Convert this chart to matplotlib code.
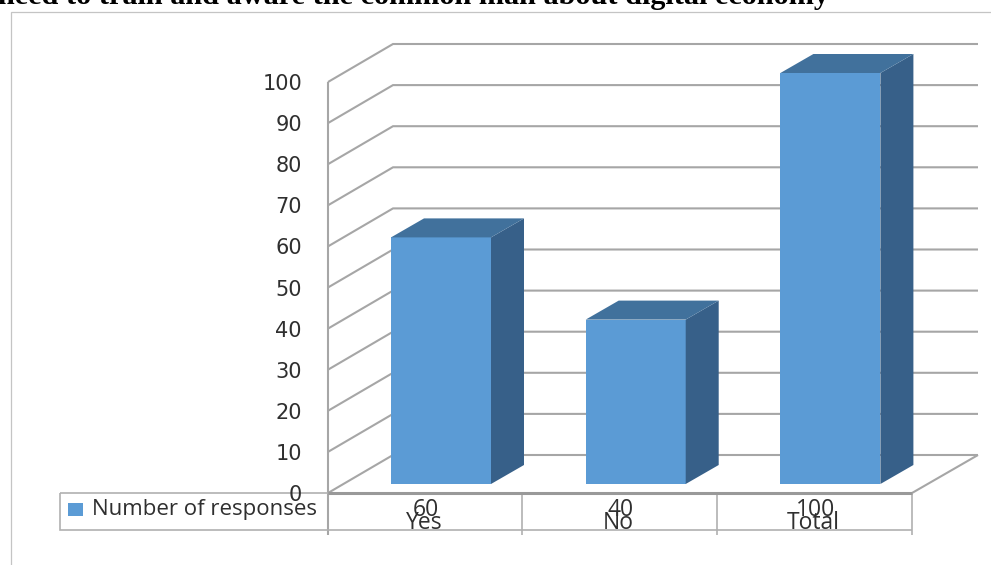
import matplotlib
matplotlib.use("Agg")
import matplotlib.pyplot as plt
from matplotlib.patches import Polygon, Rectangle

# Chart values
categories = ["Yes", "No", "Total"]
responses = [60, 40, 100]
y_ticks = [0, 10, 20, 30, 40, 50, 60, 70, 80, 90, 100]
legend_label = "Number of responses"
title = "need to train and aware the common man about digital economy"

W, H = 991, 565
CELL = 194.7    # pixels per category
UNIT = 4.11     # pixels per response
X0 = 425        # pixel x of first category centre
Y0 = 493        # pixel y of value 0 on the front plane

GRID = "#a6a6a6"
FRONT = "#5b9bd5"
SIDE = "#376089"
TOP = "#41719c"
TEXT = "#2f2f2f"


def px(x, y):
    """Pixel position in the picture to data coordinates."""
    return (x - X0) / CELL, (Y0 - y) / UNIT


def shift(x, y, dx, dy):
    """Data position moved by an offset in pixels (dy goes up)."""
    return x + dx / CELL, y + dy / UNIT


fig = plt.figure(figsize=(W / 100, H / 100), dpi=100)
ax = fig.add_axes([0, 0, 1, 1])
ax.set_xlim(-X0 / CELL, (W - X0) / CELL)
ax.set_ylim((Y0 - H) / UNIT, Y0 / UNIT)
ax.axis("off")

table_left = px(328, 0)[0]
depth_x, depth_y = 65, 38
wall_end = 978


def seg(points, color=GRID, lw=1.5, zorder=1):
    ax.plot(*zip(*points), color=color, lw=lw, zorder=zorder, solid_capstyle="butt",
            solid_joinstyle="miter")


# Page frame
seg([px(11, 565), px(11, 12), px(991, 12)], color="#c4c4c4", lw=0.9)

# Gridlines along side wall and back wall
for v in y_ticks:
    seg([(table_left, v),
         shift(table_left, v, depth_x, depth_y),
         (px(wall_end, 0)[0], v + depth_y / UNIT)])
    ax.text(px(302, 0)[0], v - 2 / UNIT, str(v), ha="right", va="center", fontsize=15,
            color=TEXT, family="DejaVu Sans", zorder=6)

# Floor and axis lines
seg([px(wall_end, 455), px(912, 493)])
seg([(table_left, 100), (table_left, 0), px(328, 535)])
seg([(table_left, 0), px(912, 493)], color="#999999", lw=2.2, zorder=2)

# Table under the plot
seg([px(60, 493), px(60, 530), px(912, 530)], color="#b0b0b0", lw=1.2)
seg([px(60, 493), px(328, 493)], color="#b0b0b0", lw=1.2)
for edge in [522, 717, 912]:
    seg([px(edge, 493), px(edge, 535)], color="#b0b0b0", lw=1.2)
lx, ly = px(68, 516)
ax.add_patch(Rectangle((lx, ly), 15 / CELL, 13 / UNIT, facecolor=FRONT, edgecolor="none", zorder=3))
ax.text(*px(92, 509.5), legend_label, ha="left", va="center", fontsize=16,
        color=TEXT, family="Open Sans", zorder=6)

# Bars with their 3D faces
bar_w = 100 / CELL
side_x, side_y = 33, 19
lift = 9 / UNIT
for i, (cat, v) in enumerate(zip(categories, responses)):
    xc = i + 16 / CELL
    ax.bar(xc, v, width=bar_w, bottom=lift, color=FRONT, zorder=4)
    x0, x1 = xc - bar_w / 2, xc + bar_w / 2
    top = v + lift
    ax.add_patch(Polygon([(x1, lift), shift(x1, lift, side_x, side_y),
                          shift(x1, top, side_x, side_y), (x1, top)],
                         facecolor=SIDE, edgecolor="none", zorder=4))
    ax.add_patch(Polygon([(x0, top), (x1, top), shift(x1, top, side_x, side_y),
                          shift(x0, top, side_x, side_y)],
                         facecolor=TOP, edgecolor="none", zorder=4))
    ax.text(i + 1 / CELL, px(0, 510)[1], str(v), ha="center", va="center", fontsize=16.5,
            color=TEXT, family="Open Sans", zorder=6)
    ax.text(i - 1 / CELL, px(0, 523)[1], cat, ha="center", va="center", fontsize=16.5,
            color=TEXT, family="Open Sans", zorder=6)

# Heading cut off by the top of the picture
ax.text(*px(-2, 4), title, ha="left", va="baseline", fontsize=21.8, fontweight="bold",
        color="black", family="Liberation Serif", zorder=6)

fig.savefig("out.png", dpi=100)
